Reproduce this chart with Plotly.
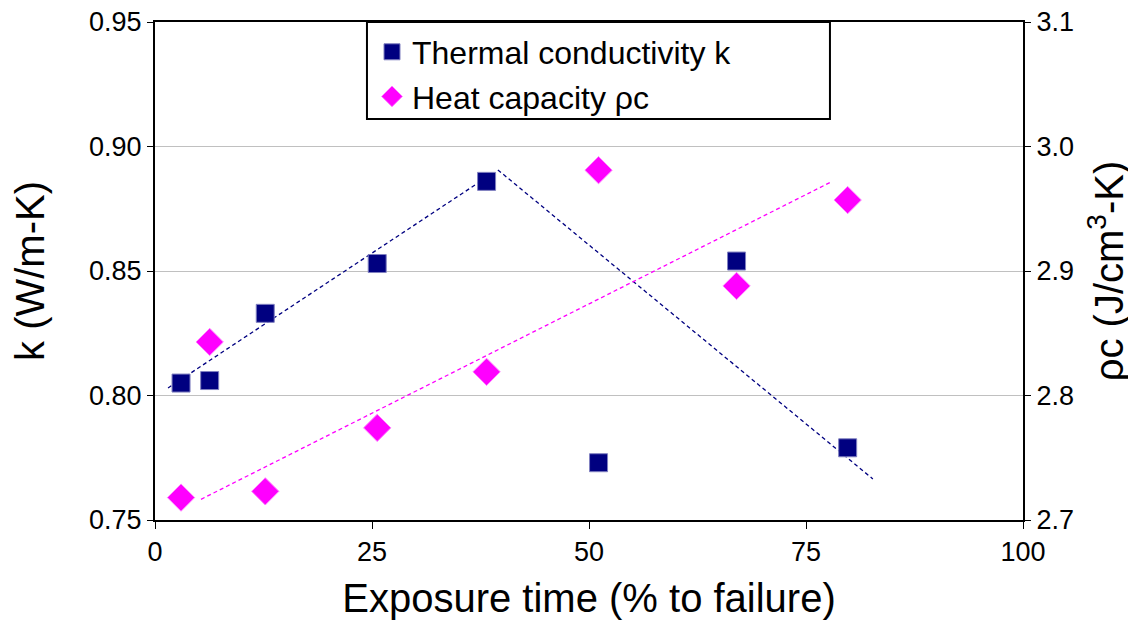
import plotly.graph_objs as go

# exposure time (% to failure)
exposure = [3.0, 6.3, 12.7, 25.6, 38.2, 51.1, 67.0, 79.8]
k_values = [0.805, 0.806, 0.833, 0.853, 0.886, 0.773, 0.854, 0.779]
rhoc_values = [2.718, 2.843, 2.723, 2.774, 2.819, 2.981, 2.888, 2.957]

# trend line end points
k_trend1_x = [1.5, 38.8]
k_trend1_y = [0.803, 0.889]
k_trend2_x = [39.5, 82.7]
k_trend2_y = [0.8906, 0.7665]
rhoc_trend_x = [5.3, 77.8]
rhoc_trend_y = [2.7166, 2.9712]

navy = '#000080'
magenta = '#FF00FF'
font = 'Arial, Liberation Sans, sans-serif'

fig = go.Figure()

fig.add_trace(go.Scatter(
    x=k_trend1_x, y=k_trend1_y, mode='lines', showlegend=False,
    line=dict(color=navy, width=1.3, dash='4px,3px')
))
fig.add_trace(go.Scatter(
    x=k_trend2_x, y=k_trend2_y, mode='lines', showlegend=False,
    line=dict(color=navy, width=1.3, dash='4px,3px')
))
fig.add_trace(go.Scatter(
    x=rhoc_trend_x, y=rhoc_trend_y, mode='lines', showlegend=False, yaxis='y2',
    line=dict(color=magenta, width=1.3, dash='4px,3px')
))

fig.add_trace(go.Scatter(
    x=exposure, y=k_values, mode='markers', name='Thermal conductivity k',
    marker=dict(symbol='square', size=18, color=navy, line=dict(color='#8080c0', width=1))
))
fig.add_trace(go.Scatter(
    x=exposure, y=rhoc_values, mode='markers', name='Heat capacity ρc',
    yaxis='y2',
    marker=dict(symbol='diamond', size=21, color=magenta, line=dict(color='#ff80ff', width=1))
))

# legend box
fig.add_shape(type='rect', xref='paper', yref='paper',
              x0=0.2442, x1=0.7776, y0=0.805, y1=1.0,
              line=dict(color='black', width=2), fillcolor='white', layer='below')

fig.update_layout(
    width=1136, height=633,
    paper_bgcolor='white', plot_bgcolor='white',
    font=dict(family=font, size=28, color='black'),
    margin=dict(l=147, r=121, t=14, b=121, autoexpand=False),
    legend=dict(x=0.25, y=0.995, xanchor='left', yanchor='top',
                font=dict(size=32), bgcolor='rgba(0,0,0,0)', borderwidth=0),
    xaxis=dict(
        range=[0, 100], dtick=25, showgrid=False, zeroline=False,
        showline=True, linecolor='black', linewidth=2, mirror=True,
        ticks='outside', ticklen=7, tickcolor='black', tickwidth=1,
        tickfont=dict(size=27), automargin=False,
        title=dict(text='Exposure time (% to failure)', font=dict(size=40), standoff=18)
    ),
    yaxis=dict(
        range=[0.75, 0.95], dtick=0.05, tickformat='.2f',
        showgrid=True, gridcolor='#c0c0c0', gridwidth=1, zeroline=False,
        showline=True, linecolor='black', linewidth=2,
        ticks='outside', ticklen=6, tickcolor='black',
        tickfont=dict(size=27), ticklabeloverflow='allow', automargin=False,
        title=dict(text='k (W/m-K)', font=dict(size=40), standoff=32)
    ),
    yaxis2=dict(
        range=[2.7, 3.1], dtick=0.1, tickformat='.1f', overlaying='y', side='right',
        showgrid=False, zeroline=False,
        showline=True, linecolor='black', linewidth=2,
        ticks='outside', ticklen=6, tickcolor='black',
        tickfont=dict(size=27), ticklabeloverflow='allow', automargin=False,
        title=dict(text='ρc (J/cm<sup>3</sup>-K)', font=dict(size=40), standoff=22)
    ),
)

fig.write_html('out.html')
